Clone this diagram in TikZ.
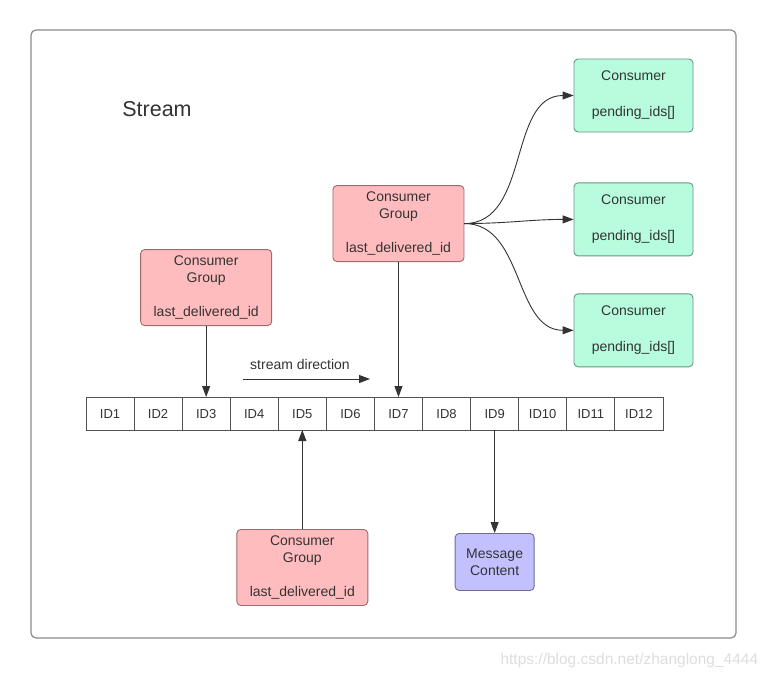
\documentclass[tikz,border=0pt]{standalone}
\usepackage{fontspec}
\setmainfont{Liberation Sans}
\usetikzlibrary{arrows.meta, positioning}
\definecolor{TxtMain}{HTML}{333333}
\definecolor{Frame}  {HTML}{8A8A8A}
\definecolor{GrpFill}{HTML}{FFBCBE}
\definecolor{GrpLine}{HTML}{9E6B6D}
\definecolor{ConFill}{HTML}{B6FCDD}
\definecolor{ConLine}{HTML}{6A9584}
\definecolor{MsgFill}{HTML}{C2C0FF}
\definecolor{MsgLine}{HTML}{6E6C99}

\begin{document}
\begin{tikzpicture}[x=1pt, y=-1pt,
  every node/.style={font=\fontsize{14}{17}\selectfont, text=TxtMain},
  mbox/.style={draw, rounded corners=4pt, line width=0.9pt,
               align=center, inner sep=0pt},
  gbox/.style={mbox, draw=GrpLine, fill=GrpFill,
               minimum width=131pt, minimum height=76pt},
  cbox/.style={mbox, draw=ConLine, fill=ConFill,
               minimum width=119pt, minimum height=73pt},
  pbox/.style={mbox, draw=MsgLine, fill=MsgFill,
               minimum width=79pt, minimum height=57pt},
  idbox/.style={draw=TxtMain!85, line width=0.8pt, outer sep=0pt,
                minimum width=48.08pt, minimum height=33pt, inner sep=0pt,
                text height=9.5pt, text depth=0pt,
                font=\fontsize{13}{15}\selectfont},
  arr/.style={-{Triangle[length=11pt, width=8pt]}, line width=0.9pt,
              draw=TxtMain},
]
  \fill[white] (0,0) rectangle (771,678);
  \useasboundingbox (0,0) rectangle (771,678);
  \draw[Frame, line width=1.2pt, rounded corners=5pt] (31,30) rectangle (736,638);

  \node[font=\fontsize{21.5}{24}\selectfont] (title) at (157,109) {Stream};

  % the row of ids
  \node[idbox] (id1) at (110,413.5) {ID1};
  \foreach \i [count=\j from 1] in {2,...,12}
    \node[idbox, right=0pt of id\j] (id\i) {ID\i};

  \node[gbox, above=71pt of id3] (cgA) {Consumer\\Group\\[17pt]last\_delivered\_id};
  \node[gbox, above=135pt of id7] (cgB) {Consumer\\Group\\[17pt]last\_delivered\_id};
  \node[gbox, below=99pt of id5] (cgC) {Consumer\\Group\\[17pt]last\_delivered\_id};
  \node[pbox, below=103pt of id9] (msg) {Message\\Content};

  \node[cbox] (conA) at (633.5,95.5) {Consumer\\[19pt]pending\_ids[]};
  \node[cbox, below=50pt of conA] (conB) {Consumer\\[19pt]pending\_ids[]};
  \node[cbox, below=37pt of conB] (conC) {Consumer\\[19pt]pending\_ids[]};

  \node (dirlbl) at (300,364) {stream direction};
  \coordinate (dirA) at (243,379);
  \coordinate (dirB) at (370,379);
  \draw[arr] (dirA) -- (dirB);

  \draw[arr] (cgA.south) -- (id3.north);
  \draw[arr] (cgB.south) -- (id7.north);
  \draw[arr] (cgC.north) -- (id5.south);
  \draw[arr] (id9.south) -- (msg.north);

  \draw[arr] (cgB.east) to[out=0, in=180] (conA.west);
  \draw[arr] (cgB.east) to[out=0, in=180] (conB.west);
  \draw[arr] (cgB.east) to[out=0, in=180] (conC.west);

  \node[font=\fontsize{15.5}{18}\selectfont, text=black!13, anchor=west]
    (mark) at (497,660) {https://blog.csdn.net/zhanglong\_4444};
\end{tikzpicture}
\end{document}
